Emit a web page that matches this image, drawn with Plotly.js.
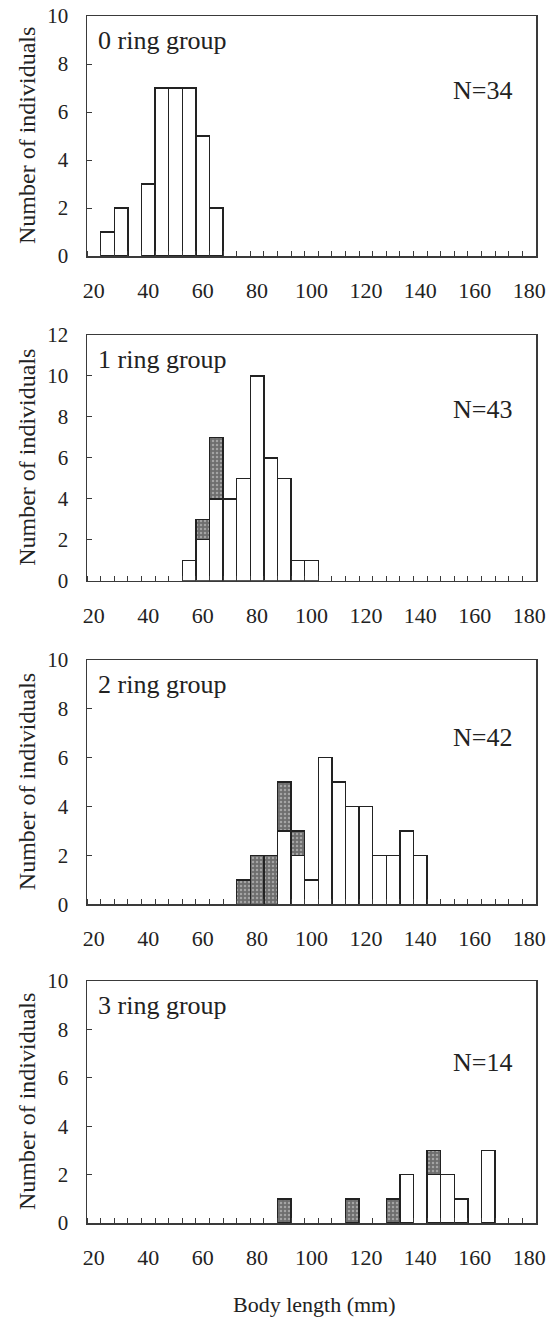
<!DOCTYPE html>
<html><head><meta charset="utf-8">
<script src="https://cdn.plot.ly/plotly-3.0.1.min.js"></script>
<style>html,body{margin:0;padding:0;background:#fff}</style>
</head><body><div id="chart" style="width:555px;height:1318px"></div>
<script>
// Body-length bins (mm), tick labels and group info
const tickLabels = [20, 40, 60, 80, 100, 120, 140, 160, 180];
const groupNames = ['0 ring group', '1 ring group', '2 ring group', '3 ring group'];
const groupN = [34, 43, 42, 14];
const yMax = [10, 12, 10, 10];

// 0 ring group
const len0 = [25, 30, 35, 40, 45, 50, 55, 60, 65];
const white0 = [1, 2, 0, 3, 7, 7, 7, 5, 2];
const dark0 = [0, 0, 0, 0, 0, 0, 0, 0, 0];
// 1 ring group
const len1 = [55, 60, 65, 70, 75, 80, 85, 90, 95, 100];
const white1 = [1, 2, 4, 4, 5, 10, 6, 5, 1, 1];
const dark1 = [0, 1, 3, 0, 0, 0, 0, 0, 0, 0];
// 2 ring group
const len2 = [75, 80, 85, 90, 95, 100, 105, 110, 115, 120, 125, 130, 135, 140];
const white2 = [0, 0, 0, 3, 2, 1, 6, 5, 4, 4, 2, 2, 3, 2];
const dark2 = [1, 2, 2, 2, 1, 0, 0, 0, 0, 0, 0, 0, 0, 0];
// 3 ring group
const len3 = [90, 115, 130, 135, 145, 150, 155, 165];
const white3 = [0, 0, 0, 2, 2, 2, 1, 3];
const dark3 = [1, 1, 1, 0, 1, 0, 0, 0];

const lens = [len0, len1, len2, len3];
const whites = [white0, white1, white2, white3];
const darks = [dark0, dark1, dark2, dark3];

const FONT = 'Liberation Serif, Times New Roman, serif';
const LINE = '#3a3a3a';
const nz = a => a.map(v => (v === 0 ? null : v));

const traces = [];
for (let i = 0; i < 4; i++) {
  const sfx = i === 0 ? '' : String(i + 1);
  traces.push({
    type: 'bar', x: lens[i], y: nz(whites[i]), xaxis: 'x' + sfx, yaxis: 'y' + sfx,
    marker: {color: '#ffffff', line: {color: '#222', width: 1.4}}, showlegend: false
  });
  traces.push({
    type: 'bar', x: lens[i], y: nz(darks[i]), xaxis: 'x' + sfx, yaxis: 'y' + sfx,
    marker: {color: '#747474', line: {color: '#222', width: 1.4},
      pattern: {shape: '.', bgcolor: '#6e6e6e', fgcolor: '#a4a4a4', size: 4, solidity: 0.3}},
    showlegend: false
  });
}

// pixel geometry: plot area top=16, bottom=1223
const H = 1207, BOT = 1223;
const panelTops = [16, 335, 660, 981];
const panelBots = [256, 580.7, 904.3, 1223];
const nShift = [-74, -74, -77, -81];

const layout = {
  width: 555, height: 1318,
  margin: {l: 87, r: 19, t: 16, b: 95},
  paper_bgcolor: '#fff', plot_bgcolor: '#fff',
  barmode: 'stack', bargap: 0,
  font: {family: FONT, color: '#222'},
  annotations: []
};

for (let i = 0; i < 4; i++) {
  const sfx = i === 0 ? '' : String(i + 1);
  layout['xaxis' + sfx] = {
    anchor: 'y' + sfx, domain: [0, 1], range: [17.5, 182.5],
    tickmode: 'array', tickvals: tickLabels, ticktext: tickLabels.map(String),
    ticks: '', showgrid: false, zeroline: false,
    showline: true, mirror: true, linecolor: LINE, linewidth: 1.5,
    minor: {tick0: 17.5, dtick: 5, ticks: 'inside', ticklen: 5, tickcolor: LINE, tickwidth: 1, showgrid: false},
    tickfont: {family: FONT, size: 22, color: '#222'},
    ticklabelstandoff: 14
  };
  layout['yaxis' + sfx] = {
    anchor: 'x' + sfx,
    domain: [(BOT - panelBots[i]) / H, (BOT - panelTops[i]) / H],
    range: [0, yMax[i]], dtick: 2, tick0: 0,
    ticks: 'inside', ticklen: 5, tickcolor: LINE, tickwidth: 1,
    showgrid: false, zeroline: false,
    showline: true, mirror: true, linecolor: LINE, linewidth: 1.5,
    tickfont: {family: FONT, size: 21, color: '#222'},
    ticklabelstandoff: 13
  };
  layout.annotations.push({
    xref: 'x' + sfx + ' domain', yref: 'y' + sfx + ' domain', x: 0.02, y: 1, yshift: -24,
    xanchor: 'left', yanchor: 'middle', showarrow: false,
    text: groupNames[i], font: {family: FONT, size: 26, color: '#222'}
  });
  layout.annotations.push({
    xref: 'x' + sfx + ' domain', yref: 'y' + sfx + ' domain', x: (482 - 87) / 449, y: 1, yshift: nShift[i],
    xanchor: 'center', yanchor: 'middle', showarrow: false,
    text: 'N=' + groupN[i], font: {family: FONT, size: 26, color: '#222'}
  });
  layout.annotations.push({
    xref: 'paper', yref: 'y' + sfx + ' domain', x: (27 - 87) / 449, y: 0.5,
    xanchor: 'center', yanchor: 'middle', textangle: -90, showarrow: false,
    text: 'Number of individuals', font: {family: FONT, size: 24, color: '#222'}
  });
}
layout.annotations.push({
  xref: 'paper', yref: 'paper', x: (314 - 87) / 449, y: (BOT - 1304) / H,
  xanchor: 'center', yanchor: 'middle', showarrow: false,
  text: 'Body length (mm)', font: {family: FONT, size: 22, color: '#222'}
});

Plotly.newPlot('chart', traces, layout, {staticPlot: true, displayModeBar: false});
</script></body></html>
